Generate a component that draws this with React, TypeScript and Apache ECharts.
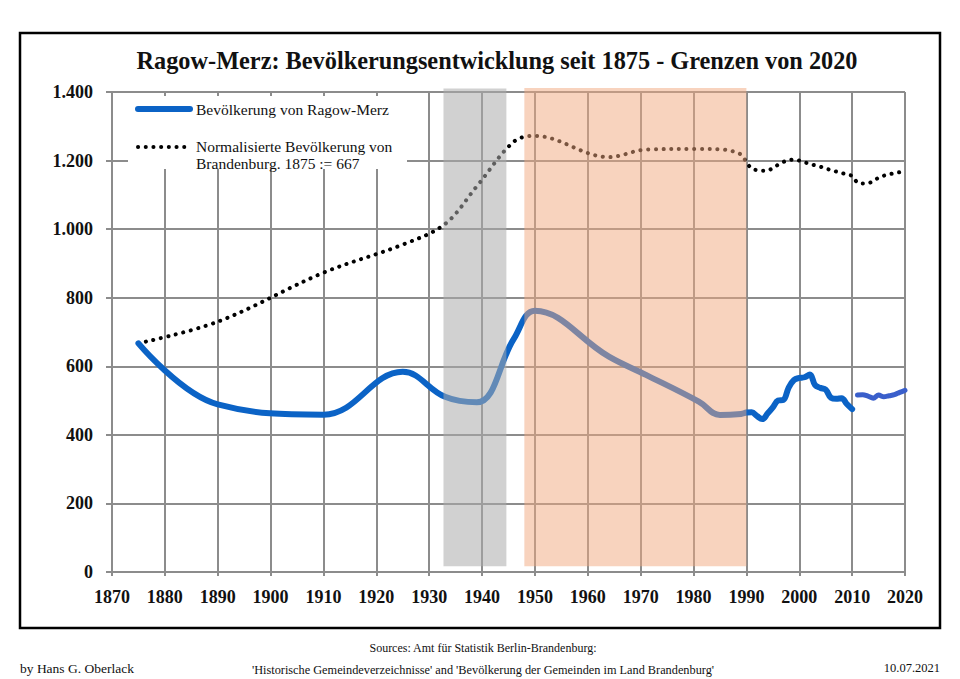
import React, { useEffect, useRef } from "react";
import * as echarts from "echarts";

// Bevölkerung von Ragow-Merz (Gebietsstand 2020)
const ragowYears = [1875, 1890, 1910, 1925, 1933, 1939, 1946, 1950, 1964, 1971, 1981, 1985, 1989, 1990, 1991, 1992, 1993, 1994, 1995, 1996, 1997, 1998, 1999, 2000, 2001, 2002, 2003, 2004, 2005, 2006, 2007, 2008, 2009, 2010];
const ragowValues = [667, 489, 459, 584, 511, 495, 680, 762, 628, 575, 497, 458, 461, 465, 466, 455, 446, 462, 480, 500, 502, 538, 560, 566, 568, 576, 545, 537, 532, 508, 505, 507, 490, 475];

// ab 2011 (Zensus 2011)
const ragowNewYears = [2011, 2012, 2013, 2014, 2015, 2016, 2017, 2018, 2019, 2020];
const ragowNewValues = [516, 517, 513, 507, 516, 511, 514, 517, 524, 530];

// Normalisierte Bevölkerung von Brandenburg, 1875 := 667
const brbYears = [1875, 1890, 1910, 1925, 1933, 1939, 1946, 1950, 1964, 1971, 1981, 1985, 1989, 1990, 1991, 1992, 1993, 1994, 1995, 1996, 1997, 1998, 1999, 2000, 2001, 2002, 2003, 2004, 2005, 2006, 2007, 2008, 2009, 2010, 2011, 2012, 2013, 2014, 2015, 2016, 2017, 2018, 2019, 2020];
const brbValues = [667, 730, 873, 955, 1015, 1125, 1255, 1272, 1210, 1232, 1234, 1233, 1218, 1195, 1177, 1172, 1170, 1171, 1178, 1188, 1196, 1201, 1203, 1200, 1195, 1190, 1186, 1182, 1177, 1172, 1168, 1164, 1159, 1155, 1136, 1133, 1134, 1140, 1150, 1156, 1160, 1163, 1166, 1168];

// shaded periods
const bandStart = [1932.7, 1948];
const bandEnd = [1944.6, 1990];
const bandLow = [17, 17];
const bandHigh = [1410, 1412];
const bandColors = ["rgba(172,172,172,0.55)", "rgba(242,168,126,0.5)"];

// axes
const xMin = 1870;
const xMax = 2020;
const xStep = 10;
const yMin = 0;
const yMax = 1400;
const yStep = 200;

const title = "Ragow-Merz: Bevölkerungsentwicklung seit 1875 - Grenzen von 2020";
const legendRagow = "Bevölkerung von Ragow-Merz";
const legendBrb1 = "Normalisierte Bevölkerung von";
const legendBrb2 = "Brandenburg. 1875 := 667";
const footerAuthor = "by Hans G. Oberlack";
const footerSrc1 = "Sources: Amt für Statistik Berlin-Brandenburg:";
const footerSrc2 = "'Historische Gemeindeverzeichnisse' and 'Bevölkerung der Gemeinden im Land Brandenburg'";
const footerDate = "10.07.2021";

const FONT = "Liberation Serif";
const GRID = "#8c8c8c";
const BLUE = "#0b63c6";
const BLUE2 = "#3a5fcb";

function pairs(xs: number[], ys: number[]) {
  return xs.map((x, i) => [x, ys[i]]);
}

function fmtThousands(v: number) {
  if (v >= 1000) {
    return Math.floor(v / 1000) + "." + String(v % 1000).padStart(3, "0");
  }
  return String(v);
}

export default function App() {
  const ref = useRef<HTMLDivElement>(null);

  useEffect(() => {
    if (!ref.current) return;
    const chart = echarts.init(ref.current, undefined, { renderer: "svg" });

    const bands = bandStart.map((s, i) => [s, bandEnd[i], bandLow[i], bandHigh[i]]);

    const option: any = {
      animation: false,
      backgroundColor: "#ffffff",
      grid: { left: 112, right: 55, top: 92, bottom: 107, containLabel: false },
      xAxis: {
        type: "value",
        min: xMin,
        max: xMax,
        interval: xStep,
        axisLine: { show: true, lineStyle: { color: GRID, width: 2 } },
        axisTick: { show: true, length: 4, lineStyle: { color: GRID, width: 2 } },
        splitLine: { show: true, lineStyle: { color: GRID, width: 2 } },
        axisLabel: {
          formatter: (v: number) => String(v),
          fontFamily: FONT,
          fontWeight: "bold",
          fontSize: 18,
          color: "#111",
          margin: 16,
        },
      },
      yAxis: {
        type: "value",
        min: yMin,
        max: yMax,
        interval: yStep,
        axisLine: { show: true, lineStyle: { color: GRID, width: 2 } },
        axisTick: { show: true, length: 6, lineStyle: { color: GRID, width: 2 } },
        splitLine: { show: true, lineStyle: { color: GRID, width: 2 } },
        axisLabel: {
          formatter: (v: number) => fmtThousands(v),
          fontFamily: FONT,
          fontWeight: "bold",
          fontSize: 18,
          color: "#111",
          margin: 19,
        },
      },
      series: [
        {
          name: "Brandenburg",
          type: "line",
          data: pairs(brbYears, brbValues),
          smooth: 0.35,
          showSymbol: false,
          z: 3,
          lineStyle: { color: "#000", width: 4, type: [0.1, 7.6], cap: "round" },
        },
        {
          name: legendRagow,
          type: "line",
          data: pairs(ragowYears, ragowValues),
          smooth: 0.4,
          showSymbol: false,
          z: 4,
          lineStyle: { color: BLUE, width: 6, cap: "round", join: "round" },
        },
        {
          name: "Ragow-Merz 2011",
          type: "line",
          data: pairs(ragowNewYears, ragowNewValues),
          smooth: 0.35,
          showSymbol: false,
          z: 4,
          lineStyle: { color: BLUE2, width: 5, cap: "round", join: "round" },
        },
        {
          name: "periods",
          type: "custom",
          z: 6,
          clip: false,
          silent: true,
          encode: { x: [0, 1], y: [2, 3] },
          data: bands,
          renderItem: (params: any, api: any) => {
            const a = api.coord([api.value(0), api.value(3)]);
            const b = api.coord([api.value(1), api.value(2)]);
            return {
              type: "rect",
              shape: { x: a[0], y: a[1], width: b[0] - a[0], height: b[1] - a[1] },
              style: { fill: bandColors[params.dataIndex] },
            };
          },
        },
      ],
      graphic: [
        {
          type: "rect",
          z: 100,
          shape: { x: 20, y: 33, width: 920, height: 595 },
          style: { fill: "none", stroke: "#000", lineWidth: 2.5 },
        },
        {
          type: "text",
          z: 100,
          x: 497,
          y: 60,
          style: {
            text: title,
            font: `bold 24.3px ${FONT}`,
            fill: "#111",
            textAlign: "center",
            textVerticalAlign: "middle",
          },
        },
        {
          type: "rect",
          z: 50,
          shape: { x: 128, y: 96, width: 279, height: 73 },
          style: { fill: "#fff" },
        },
        {
          type: "line",
          z: 51,
          shape: { x1: 138, y1: 109, x2: 190, y2: 109 },
          style: { stroke: BLUE, lineWidth: 6, lineCap: "round" },
        },
        {
          type: "text",
          z: 51,
          x: 196,
          y: 109,
          style: { text: legendRagow, font: `15.5px ${FONT}`, fill: "#111", textVerticalAlign: "middle" },
        },
        {
          type: "line",
          z: 51,
          shape: { x1: 138, y1: 147, x2: 190, y2: 147 },
          style: { stroke: "#000", lineWidth: 4, lineCap: "round", lineDash: [0.1, 7.6] },
        },
        {
          type: "text",
          z: 51,
          x: 196,
          y: 146,
          style: { text: legendBrb1, font: `15.5px ${FONT}`, fill: "#111", textVerticalAlign: "middle" },
        },
        {
          type: "text",
          z: 51,
          x: 196,
          y: 163,
          style: { text: legendBrb2, font: `15.5px ${FONT}`, fill: "#111", textVerticalAlign: "middle" },
        },
        {
          type: "text",
          z: 100,
          x: 20,
          y: 668,
          style: { text: footerAuthor, font: `13.5px ${FONT}`, fill: "#111", textVerticalAlign: "middle" },
        },
        {
          type: "text",
          z: 100,
          x: 483,
          y: 648,
          style: { text: footerSrc1, font: `12px ${FONT}`, fill: "#111", textAlign: "center", textVerticalAlign: "middle" },
        },
        {
          type: "text",
          z: 100,
          x: 483,
          y: 670,
          style: { text: footerSrc2, font: `12.3px ${FONT}`, fill: "#111", textAlign: "center", textVerticalAlign: "middle" },
        },
        {
          type: "text",
          z: 100,
          x: 940,
          y: 668,
          style: { text: footerDate, font: `12.5px ${FONT}`, fill: "#111", textAlign: "right", textVerticalAlign: "middle" },
        },
      ],
    };

    chart.setOption(option);
    return () => chart.dispose();
  }, []);

  return (
    <div
      ref={ref}
      style={{ position: "fixed", left: 0, top: 0, width: 960, height: 679, background: "#fff" }}
    />
  );
}
